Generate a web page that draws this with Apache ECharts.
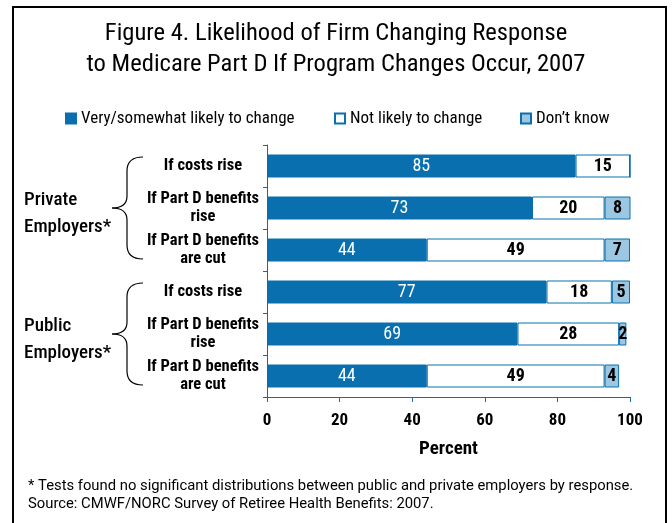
<!DOCTYPE html>
<html>
<head>
<meta charset="utf-8">
<script src="https://cdn.jsdelivr.net/npm/echarts@6/dist/echarts.min.js"></script>
<style>
  html, body { margin: 0; padding: 0; background: #fff; }
  #main { width: 672px; height: 523px; }
</style>
</head>
<body>
<div id="main"></div>
<script>
var FONT = "'Roboto Condensed', 'DejaVu Sans Condensed', sans-serif";
var NOTE_FONT = "Roboto, 'Liberation Sans', sans-serif";
var BLUE = '#0A6FAE';

// data
var categories = [
    'If costs rise',
    'If Part D benefits\nrise',
    'If Part D benefits\nare cut',
    'If costs rise',
    'If Part D benefits\nrise',
    'If Part D benefits\nare cut'
];
var groups = ['Private\nEmployers*', 'Public\nEmployers*'];
var seriesNames = ['Very/somewhat likely to change', 'Not likely to change', 'Don\u2019t know'];
var likely = [85, 73, 44, 77, 69, 44];
var notLikely = [15, 20, 49, 18, 28, 49];
var dontKnow = [0, 8, 7, 5, 2, 4];
var xTicks = [0, 20, 40, 60, 80, 100];

var chartDom = document.getElementById('main');
var myChart = echarts.init(chartDom);
var option;

function hideZero(p) {
    return p.value ? p.value : '';
}

var legendLeft = [65, 334, 520];

option = {
    backgroundColor: '#fff',
    textStyle: { fontFamily: FONT },
    title: {
        text: 'Figure 4. Likelihood of Firm Changing Response\nto Medicare Part D If Program Changes Occur, 2007',
        left: 'center',
        top: 13,
        padding: [5, 0, 5, 10],
        textStyle: { fontFamily: FONT, fontSize: 24.6, fontWeight: 'normal', lineHeight: 31, color: '#000' }
    },
    legend: seriesNames.map(function (n, i) {
        return {
            left: legendLeft[i],
            top: 110,
            padding: 0,
            itemWidth: 10,
            itemHeight: 10,
            icon: 'rect',
            textStyle: { fontFamily: FONT, fontSize: 17, color: '#000' },
            data: [n]
        };
    }),
    grid: { left: 267, right: 42, top: 145, bottom: 126 },
    xAxis: {
        type: 'value',
        min: xTicks[0],
        max: xTicks[xTicks.length - 1],
        interval: 20,
        axisLine: { show: true, lineStyle: { color: BLUE } },
        axisTick: { show: true, length: 5, lineStyle: { color: BLUE } },
        splitLine: { show: false },
        axisLabel: { fontFamily: FONT, fontSize: 17, fontWeight: 'bold', color: '#000', margin: 15 },
        name: 'Percent',
        nameLocation: 'middle',
        nameGap: 43,
        nameTextStyle: { fontFamily: FONT, fontSize: 19, fontWeight: 'bold', color: '#000' }
    },
    yAxis: {
        type: 'category',
        inverse: true,
        data: categories,
        axisLine: { show: true, lineStyle: { color: BLUE } },
        axisTick: { show: true, length: 4, lineStyle: { color: BLUE } },
        axisLabel: {
            fontFamily: FONT, fontSize: 16.5, fontWeight: 'bold', color: '#000',
            align: 'center', margin: 64, lineHeight: 18
        }
    },
    series: [
        {
            name: seriesNames[0],
            type: 'bar',
            stack: 'all',
            barWidth: 23,
            data: likely,
            itemStyle: { color: BLUE, borderColor: BLUE, borderWidth: 1 },
            label: { show: true, position: 'inside', color: '#fff', fontFamily: FONT, fontSize: 18, formatter: hideZero }
        },
        {
            name: seriesNames[1],
            type: 'bar',
            stack: 'all',
            data: notLikely,
            itemStyle: { color: '#fff', borderColor: BLUE, borderWidth: 1 },
            label: { show: true, position: 'inside', color: '#000', fontFamily: FONT, fontSize: 18, fontWeight: 'bold', formatter: hideZero }
        },
        {
            name: seriesNames[2],
            type: 'bar',
            stack: 'all',
            data: dontKnow,
            itemStyle: { color: '#9CC7E2', borderColor: BLUE, borderWidth: 1 },
            label: { show: true, position: 'inside', color: '#000', fontFamily: FONT, fontSize: 18, fontWeight: 'bold', formatter: hideZero }
        }
    ]
};

option && myChart.setOption(option);

// braces and group labels, placed from the category positions
var graphics = [];
var braceStyle = { stroke: '#000', lineWidth: 1.2, fill: null };
groups.forEach(function (g, i) {
    var y0 = myChart.convertToPixel({ yAxisIndex: 0 }, i * 3) - 9;
    var ym = myChart.convertToPixel({ yAxisIndex: 0 }, i * 3 + 1);
    var y1 = myChart.convertToPixel({ yAxisIndex: 0 }, i * 3 + 2) + 9;
    var segs = [
        [143, y0, 127, y0 + 14, 127, y0],
        [127, ym - 12, 112, ym, 127, ym],
        [112, ym, 127, ym + 12, 127, ym],
        [127, y1 - 14, 143, y1, 127, y1]
    ];
    segs.forEach(function (s) {
        graphics.push({
            type: 'bezierCurve',
            shape: { x1: s[0], y1: s[1], x2: s[2], y2: s[3], cpx1: s[4], cpy1: s[5] },
            style: braceStyle
        });
    });
    graphics.push({ type: 'line', shape: { x1: 127, y1: y0 + 14, x2: 127, y2: ym - 12 }, style: braceStyle });
    graphics.push({ type: 'line', shape: { x1: 127, y1: ym + 12, x2: 127, y2: y1 - 14 }, style: braceStyle });
    graphics.push({
        type: 'text',
        left: 24,
        top: ym - 21,
        style: { text: g, fontFamily: FONT, fontSize: 19, fontWeight: 500, lineHeight: 27, fill: '#000' }
    });
});
graphics.push({
    type: 'text',
    left: 28,
    top: 477,
    style: {
        text: '* Tests found no significant distributions between public and private employers by response.\nSource: CMWF/NORC Survey of Retiree Health Benefits: 2007.',
        fontFamily: NOTE_FONT, fontSize: 14.8, lineHeight: 18, fill: '#000'
    }
});
graphics.push({
    type: 'rect',
    shape: { x: 13, y: 7, width: 653, height: 530 },
    style: { fill: null, stroke: '#000', lineWidth: 2 }
});
myChart.setOption({ graphic: graphics });
</script>
</body>
</html>
